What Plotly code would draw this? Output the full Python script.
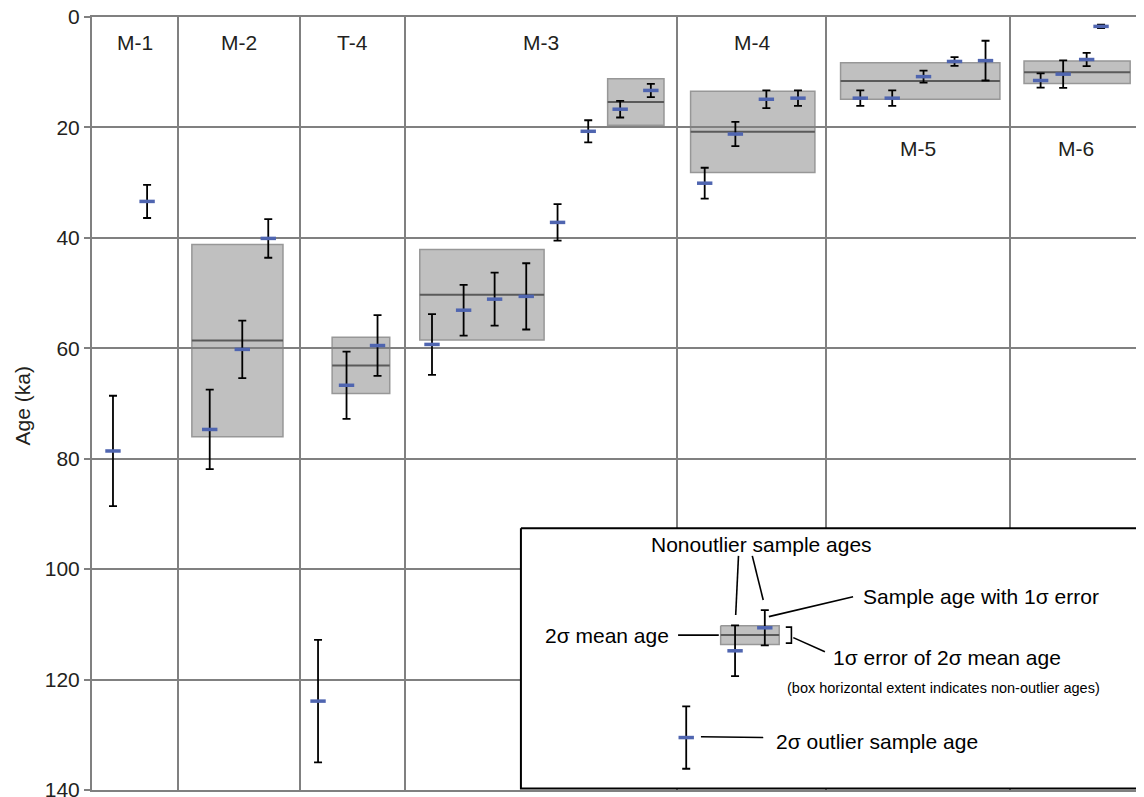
import plotly.graph_objects as go

# ---------------- data ----------------
group_names = ["M-1", "M-2", "T-4", "M-3", "M-4", "M-5", "M-6"]
group_bounds = [0.0, 2.75, 6.64, 10.0, 18.67, 23.46, 29.32, 33.57]   # column edges (sample-position units)
group_label_age = [4.7, 4.7, 4.7, 4.7, 4.7, 23.8, 23.8]

sample_x = [0.67, 1.76,
            3.76, 4.80, 5.63,
            7.22, 8.13, 9.12,
            10.86, 11.87, 12.86, 13.87, 14.87, 15.85, 16.87, 17.85,
            19.57, 20.55, 21.54, 22.55,
            24.54, 25.56, 26.56, 27.55, 28.54,
            30.30, 31.02, 31.77, 32.23]
sample_age = [78.6, 33.4,
              74.7, 60.2, 40.1,
              123.9, 66.7, 59.5,
              59.3, 53.1, 51.1, 50.6, 37.2, 20.7, 16.7, 13.3,
              30.1, 21.2, 14.9, 14.7,
              14.7, 14.7, 10.8, 8.05, 7.9,
              11.5, 10.35, 7.7, 1.7]
sample_err = [10.0, 3.0,
              7.2, 5.2, 3.5,
              11.1, 6.1, 5.5,
              5.5, 4.6, 4.8, 6.0, 3.3, 2.0, 1.5, 1.2,
              2.8, 2.2, 1.6, 1.4,
              1.4, 1.4, 1.1, 0.8, 3.6,
              1.3, 2.5, 1.2, 0.3]

# 2-sigma mean age boxes
box_x0 = [3.19, 7.67, 10.47, 16.47, 19.12, 23.91, 29.77]
box_x1 = [6.10, 9.51, 14.44, 18.27, 23.09, 29.00, 33.16]
box_mean = [58.6, 63.1, 50.3, 15.4, 20.8, 11.6, 10.0]
box_err = [17.4, 5.1, 8.2, 4.2, 7.35, 3.3, 2.05]

y_ticks = [0, 20, 40, 60, 80, 100, 120, 140]

# ---------------- style ----------------
FONT = "Liberation Sans, Arial, Helvetica, sans-serif"
GRID = "#808080"
BLUE = "#4f65b0"
BOXFILL = "#c0c0c0"
BOXLINE = "#979797"
MEANLINE = "#5a5a5a"
TXT = "#231f20"

fig = go.Figure()

shapes = []
for x0, x1, m, e in zip(box_x0, box_x1, box_mean, box_err):
    shapes.append(dict(type="rect", xref="x", yref="y", x0=x0, x1=x1, y0=m - e, y1=m + e,
                       fillcolor=BOXFILL, line=dict(color=BOXLINE, width=1.5), layer="below"))
    shapes.append(dict(type="line", xref="x", yref="y", x0=x0, x1=x1, y0=m, y1=m,
                       line=dict(color=MEANLINE, width=2), layer="below"))

# sample ages with 1-sigma error
fig.add_trace(go.Scatter(
    x=sample_x, y=sample_age, mode="markers",
    marker=dict(symbol="line-ew", size=11, line=dict(color=BLUE, width=3.5), color=BLUE),
    error_y=dict(type="data", array=sample_err, visible=True, color="black", thickness=1.8, width=4),
    showlegend=False, hoverinfo="x+y"))

# ---------------- explanatory key (drawn in plot units) ----------------
key_x = [13.70, 33.50, 33.50, 13.70, 13.70]
key_y = [92.6, 92.6, 139.75, 139.75, 92.6]
fig.add_trace(go.Scatter(x=key_x, y=key_y, mode="lines", fill="toself", fillcolor="white",
                         line=dict(color="black", width=2), showlegend=False, hoverinfo="skip"))
# key box
fig.add_trace(go.Scatter(x=[20.08, 21.95, 21.95, 20.08, 20.08], y=[110.26, 110.26, 113.63, 113.63, 110.26],
                         mode="lines", fill="toself", fillcolor=BOXFILL, line=dict(color=BOXLINE, width=1.5),
                         showlegend=False, hoverinfo="skip"))
fig.add_trace(go.Scatter(x=[20.08, 21.95], y=[111.95, 111.95], mode="lines",
                         line=dict(color=MEANLINE, width=2), showlegend=False, hoverinfo="skip"))
# key leader lines
leaders = [
    ([18.72, 20.02], [111.95, 111.95]),
    ([20.65, 20.56], [97.6, 108.3]),
    ([21.09, 21.44], [97.6, 105.6]),
    ([21.62, 24.31], [108.6, 105.0]),
    ([22.40, 23.41], [112.4, 114.97]),
    ([19.45, 21.44], [130.35, 130.5]),
    ([22.16, 22.34, 22.34, 22.16], [110.5, 110.5, 113.4, 113.4]),
]
for lx, ly in leaders:
    fig.add_trace(go.Scatter(x=lx, y=ly, mode="lines", line=dict(color="black", width=1.6),
                             showlegend=False, hoverinfo="skip"))
# key samples
fig.add_trace(go.Scatter(
    x=[20.54, 21.49, 18.98], y=[114.79, 110.62, 130.5], mode="markers",
    marker=dict(symbol="line-ew", size=11, line=dict(color=BLUE, width=3.5), color=BLUE),
    error_y=dict(type="data", array=[4.6, 3.2, 5.65], visible=True, color="black", thickness=1.8, width=4),
    showlegend=False, hoverinfo="skip"))

annotations = []
for i, name in enumerate(group_names):
    cx = (group_bounds[i] + group_bounds[i + 1]) / 2
    annotations.append(dict(x=cx, y=group_label_age[i], xref="x", yref="y", text=name, showarrow=False,
                            font=dict(family=FONT, size=21, color=TXT), xanchor="center", yanchor="middle"))

key_texts = [
    ("Nonoutlier sample ages", 21.39, 95.6, "center", 21),
    ("2σ mean age", 18.48, 112.1, "right", 21),
    ("Sample age with 1σ error", 24.55, 105.0, "left", 21),
    ("1σ error of 2σ mean age", 23.60, 116.05, "left", 21),
    ("(box horizontal extent indicates non-outlier ages)", 22.12, 121.6, "left", 14.5),
    ("2σ outlier sample age", 21.78, 131.3, "left", 21),
]
for t, x, y, anc, sz in key_texts:
    annotations.append(dict(x=x, y=y, xref="x", yref="y", text=t, showarrow=False, xanchor=anc,
                            yanchor="middle", font=dict(family=FONT, size=sz, color="black")))

annotations.append(dict(x=-0.066, y=0.497, xref="paper", yref="paper", text="Age (ka)", textangle=-90,
                        showarrow=False, xanchor="center", yanchor="middle",
                        font=dict(family=FONT, size=21, color=TXT)))

# the page places the figure 8 px in from the top-left corner, so the figure is sized to match
fig.update_layout(
    width=1136, height=789,
    margin=dict(l=84, r=1, t=9, b=7),
    paper_bgcolor="white", plot_bgcolor="white",
    shapes=shapes, annotations=annotations,
    showlegend=False,
    xaxis=dict(range=[group_bounds[0], group_bounds[-1]], tickvals=group_bounds, showticklabels=False,
               ticks="", showgrid=True, gridcolor=GRID, gridwidth=2, zeroline=False,
               showline=True, linecolor=GRID, linewidth=2, mirror=True, automargin=False),
    yaxis=dict(range=[140, 0], tickvals=y_ticks, ticks="outside", ticklen=6, tickcolor=GRID, tickwidth=2,
               showgrid=True, gridcolor=GRID, gridwidth=2, zeroline=False,
               showline=True, linecolor=GRID, linewidth=2, mirror=True,
               ticklabeloverflow="allow", automargin=False,
               tickfont=dict(family=FONT, size=21, color=TXT)),
)

fig.write_html("out.html")
